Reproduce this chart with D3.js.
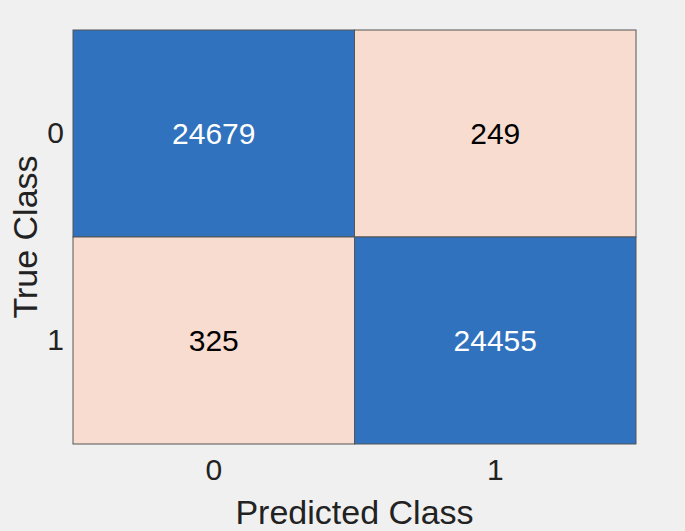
<!DOCTYPE html>
<html>
<head>
<meta charset="utf-8">
<script src="https://cdn.jsdelivr.net/npm/d3@7"></script>
<style>
  body { margin: 0; background: #f0f0f0; }
  text { font-family: "Liberation Sans", Arial, Helvetica, sans-serif; }
</style>
</head>
<body>
<div id="chart"></div>
<script>
// Data
var trueClasses = ['0', '1'];
var predictedClasses = ['0', '1'];
var counts = [
	[24679, 249],
	[325, 24455]
];

// Config
var width = 685, height = 531;
var margin = { top: 30, right: 49, bottom: 87, left: 73 };

var svg = d3.select('#chart').append('svg')
	.attr('width', width)
	.attr('height', height)
	.style('background', '#f0f0f0');

var x = d3.scaleBand().domain(predictedClasses).range([margin.left, width - margin.right]);
var y = d3.scaleBand().domain(trueClasses).range([margin.top, height - margin.bottom]);

var cells = [];
trueClasses.forEach((t, i) => {
	predictedClasses.forEach((p, j) => {
		cells.push({ t, p, value: counts[i][j], diag: i === j });
	});
});

var cell = svg.selectAll('.cell')
	.data(cells)
	.enter().append('g')
		.attr('class', 'cell');

cell.append('rect')
	.attr('x', d => x(d.p))
	.attr('y', d => y(d.t))
	.attr('width', x.bandwidth())
	.attr('height', y.bandwidth())
	.attr('fill', d => d.diag ? '#3072bd' : '#f8dcd0')
	.attr('stroke', '#555')
	.attr('stroke-width', 1);

cell.append('text')
	.attr('x', d => x(d.p) + x.bandwidth() / 2)
	.attr('y', d => y(d.t) + y.bandwidth() / 2)
	.attr('dy', '0.36em')
	.attr('text-anchor', 'middle')
	.attr('font-size', 30)
	.attr('fill', d => d.diag ? '#fff' : '#000')
	.text(d => d.value);

// Axes
var xAxis = svg.append('g')
	.attr('transform', `translate(0,${height - margin.bottom})`)
	.call(d3.axisBottom(x).tickSize(0).tickPadding(15));
var yAxis = svg.append('g')
	.attr('transform', `translate(${margin.left},0)`)
	.call(d3.axisLeft(y).tickSize(0).tickPadding(9));

[xAxis, yAxis].forEach(a => {
	a.select('.domain').remove();
	a.selectAll('text')
		.attr('font-size', 30)
		.attr('font-family', '"Liberation Sans", Arial, sans-serif')
		.attr('fill', '#222');
});

svg.append('text')
	.attr('x', margin.left + (width - margin.left - margin.right) / 2)
	.attr('y', 524)
	.attr('text-anchor', 'middle')
	.attr('font-size', 34)
	.attr('fill', '#222')
	.text('Predicted Class');

svg.append('text')
	.attr('transform', `translate(37,${margin.top + (height - margin.top - margin.bottom) / 2}) rotate(-90)`)
	.attr('text-anchor', 'middle')
	.attr('font-size', 34)
	.attr('fill', '#222')
	.text('True Class');
</script>
</body>
</html>
